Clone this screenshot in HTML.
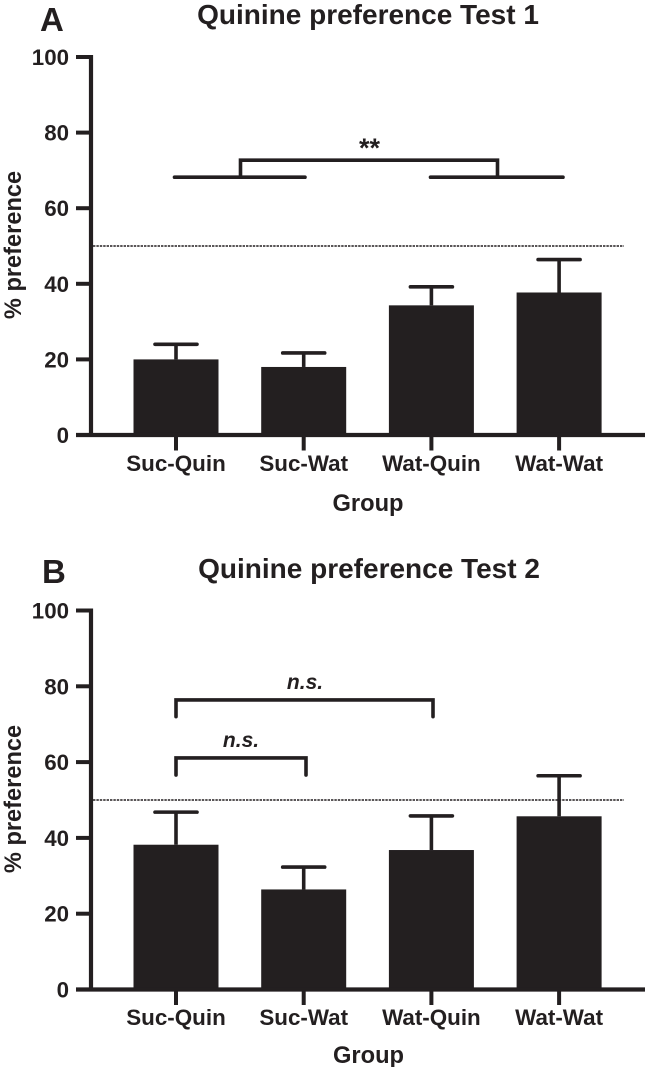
<!DOCTYPE html>
<html>
<head>
<meta charset="utf-8">
<style>
html,body{margin:0;padding:0;background:#fff;width:646px;height:1067px;overflow:hidden}
svg{display:block}
text{font-family:"Liberation Sans",sans-serif;font-weight:bold;fill:#231f20}
</style>
</head>
<body>
<svg id="chart" width="646" height="1067" viewBox="0 0 646 1067" xmlns="http://www.w3.org/2000/svg">
  <text x="40" y="31" font-size="33">A</text>
  <text x="368" y="24" font-size="28" text-anchor="middle">Quinine preference Test 1</text>
  <text transform="translate(21,245) rotate(-90)" font-size="23.6" text-anchor="middle">% preference</text>
  <text x="368" y="511" font-size="23.7" text-anchor="middle">Group</text>
  <text x="369.5" y="157" font-size="27" text-anchor="middle">**</text>
  <text x="42" y="583" font-size="33">B</text>
  <text x="369" y="578" font-size="28" text-anchor="middle">Quinine preference Test 2</text>
  <text transform="translate(21,799) rotate(-90)" font-size="23.6" text-anchor="middle">% preference</text>
  <text x="368.5" y="1063" font-size="23.7" text-anchor="middle">Group</text>
  <text x="305" y="689" font-size="21" font-style="italic" text-anchor="middle">n.s.</text>
  <text x="241" y="747" font-size="21" font-style="italic" text-anchor="middle">n.s.</text>
</svg>
<script>
var categories = ["Suc-Quin", "Suc-Wat", "Wat-Quin", "Wat-Wat"];
var yTicks = [0, 20, 40, 60, 80, 100];
var test1Means = [20, 18, 34.3, 37.7];
var test1ErrorTops = [24, 21.7, 39.2, 46.4];
var test2Means = [38.2, 26.4, 36.8, 45.7];
var test2ErrorTops = [46.8, 32.3, 45.8, 56.4];
var chanceLevel = [50];

var ink = "#231f20";
var svg = document.getElementById("chart");
var NS = "http://www.w3.org/2000/svg";

function make(tag, attrs) {
  var el = document.createElementNS(NS, tag);
  for (var k in attrs) el.setAttribute(k, attrs[k]);
  svg.appendChild(el);
  return el;
}
function xScale(i) { return 176 + i * 127.7; }
function yScaleFor(zero, top) {
  return function (v) { return zero - v * (zero - top) / 100; };
}
function segment(x1, y1, x2, y2, w, cap) {
  return make("line", { x1: x1, y1: y1, x2: x2, y2: y2, stroke: ink, "stroke-width": w, "stroke-linecap": cap || "butt" });
}

function drawPanel(prefix, means, errors, zero, top, xLabelY) {
  var y = yScaleFor(zero, top);

  means.forEach(function (m, i) {
    var w = segment(xScale(i), y(m), xScale(i), y(errors[i]), 3.6);
    
    
    var c = segment(xScale(i) - 21, y(errors[i]), xScale(i) + 21, y(errors[i]), 3.6, "round");
    
    
    var b = make("rect", { x: xScale(i) - 42.5, y: y(m), width: 85, height: zero - y(m), fill: ink });
    
    
    var t = segment(xScale(i), zero, xScale(i), zero + 15.5, 4);
    
    
    var l = make("text", { x: xScale(i), y: xLabelY, "font-size": 22.4, "text-anchor": "middle" });
    l.textContent = categories[i];
    
    
  });

  yTicks.forEach(function (v) {
    var t = segment(76, y(v), 91, y(v), 4);
    
    
    var l = make("text", { x: 69, y: y(v) + 8, "font-size": 22.3, "text-anchor": "end" });
    l.textContent = String(v);
    
    
  });

  var ya = segment(91, top - 2, 91, zero + 2, 4.2);
  
  
  var xa = segment(76, zero, 645, zero, 4.2);
  
  

  var d = segment(93, y(chanceLevel[0]), 624, y(chanceLevel[0]), 1.4);
  d.setAttribute("stroke-dasharray", "2.4 1");
  
  
  d.setAttribute("id", prefix + "-chance-line");
}

drawPanel("a", test1Means, test1ErrorTops, 435, 57, 471);
drawPanel("b", test2Means, test2ErrorTops, 989.5, 610.5, 1025);

function bracketPath(d, name) {
  var p = make("path", { d: d, fill: "none", stroke: ink, "stroke-width": 3.6, "stroke-linecap": "round", "stroke-linejoin": "miter" });
  
  
}
var yA = yScaleFor(435, 57);
var yB = yScaleFor(989.5, 610.5);
bracketPath("M174.5 " + yA(68.2) + "H305", "bracket-left-group");
bracketPath("M430.5 " + yA(68.2) + "H563", "bracket-right-group");
bracketPath("M240.5 " + yA(68.2) + "V" + yA(72.7) + "H497.5V" + yA(68.2), "bracket-between-groups");
bracketPath("M176 " + yB(72) + "V" + yB(76.4) + "H433V" + yB(72), "bracket-long");
bracketPath("M176 " + yB(56.6) + "V" + yB(61.1) + "H306V" + yB(56.6), "bracket-short");
</script>
</body>
</html>
